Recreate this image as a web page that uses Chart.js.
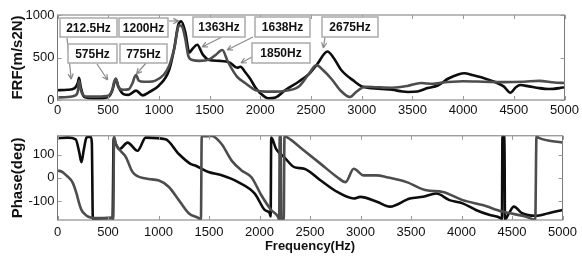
<!DOCTYPE html>
<html>
<head>
<meta charset="utf-8">
<script src="https://cdn.jsdelivr.net/npm/chart.js@4/dist/chart.umd.min.js"></script>
<style>
  html, body { margin: 0; padding: 0; background: #fff; }
  #wrap { position: relative; width: 582px; height: 258px; }
  .box { position: absolute; left: 0; width: 582px; }
</style>
</head>
<body>
<div id="wrap">
  <div class="box" style="top:0;height:125px"><canvas id="frf"></canvas></div>
  <div class="box" style="top:125px;height:133px"><canvas id="phase"></canvas></div>
</div>
<script>
// FRF magnitude (m/s2N)
var frfBlackHz = [0,100,170,200,212,230,260,300,400,500,540,560,575,600,650,700,775,840,900,1000,1100,1150,1190,1220,1260,1300,1330,1378,1430,1495,1600,1700,1770,1805,1850,1900,1950,2000,2080,2150,2250,2377,2475,2560,2662,2720,2800,2933,3000,3100,3200,3300,3400,3456,3550,3650,3750,3850,3950,4011,4100,4200,4306,4400,4466,4520,4564,4650,4750,4850,4950,5000];
var frfBlack   = [115,120,140,200,260,150,40,25,20,35,110,200,250,160,70,60,110,55,90,170,350,600,880,925,800,560,600,650,540,470,460,440,380,392,330,250,150,80,20,30,120,215,300,420,570,500,350,215,160,140,130,120,100,95,100,140,170,250,300,315,290,260,215,160,86,150,176,160,140,130,140,150];

var frfGrayHz = [0,100,170,200,212,230,260,300,400,500,540,560,575,600,650,700,740,760,775,800,850,900,960,1050,1100,1150,1200,1230,1260,1290,1330,1400,1500,1560,1625,1680,1770,1850,1950,2050,2150,2250,2377,2475,2554,2620,2700,2800,2884,2950,3031,3150,3300,3450,3585,3700,3800,3900,4000,4200,4400,4600,4750,4900,5000];
var frfGray   = [30,35,50,100,230,120,50,40,40,50,120,220,250,150,120,125,200,270,294,230,215,215,225,300,400,600,880,860,720,520,470,460,480,530,588,450,275,200,118,98,98,110,156,300,410,350,250,100,35,100,156,150,145,165,200,190,205,215,220,215,210,215,225,205,200];

// Phase (deg)
var phaseBlackHz = [0,100,180,215,237,260,286,300,330,340,350,400,500,545,556,564,613,694,792,874,1070,1201,1316,1364,1495,1626,1789,1953,2051,2100,2110,2116,2165,2246,2345,2443,2606,2770,2933,2998,3162,3292,3488,3619,3750,3880,4011,4142,4273,4387,4400,4405,4425,4430,4469,4518,4600,4730,4861,5000];
var phaseBlack   = [170,172,165,110,67,120,172,175,175,150,-176,-174,-172,-172,170,158,123,151,116,172,165,102,60,53,25,11,-18,-67,-137,-151,-165,172,123,88,46,39,-11,-60,-88,-81,-102,-123,-88,-81,-67,-95,-109,-137,-158,-172,-178,178,175,-178,-151,-123,-151,-162,-151,-137];

var phaseGrayHz = [0,50,90,150,188,215,237,270,300,400,500,545,552,560,580,678,743,874,1005,1103,1201,1299,1397,1420,1428,1446,1528,1626,1724,1822,1920,2018,2116,2181,2195,2200,2210,2215,2240,2247,2279,2443,2606,2770,2851,2933,3031,3162,3260,3456,3652,3815,4011,4208,4404,4632,4730,4742,4760,5000];
var phaseGray   = [32,25,10,-20,-66,-110,-137,-155,-165,-172,-172,-170,-176,176,144,88,25,-3,-11,-39,-95,-151,-172,-178,178,178,179,144,74,32,3,-74,-137,-165,-178,178,175,-178,-178,178,172,116,60,3,-18,39,11,11,3,-18,-53,-60,-95,-116,-144,-165,-178,178,172,151];

var freqTicks = [0,500,1000,1500,2000,2500,3000,3500,4000,4500,5000];
var frfTicks = [0,500,1000];
var phaseTicks = [-100,0,100];

// peak labels on the FRF plot
var peakLabels = ['212.5Hz','575Hz','775Hz','1200Hz','1363Hz','1638Hz','1850Hz','2675Hz'];

var FONT = "'Liberation Sans', Arial, sans-serif";
var BLACK = '#0d0d0d', GRAY = '#4d4d4d';

function pts(xs, ys) {
  return xs.map(function(x, i) { return { x: x, y: ys[i] }; });
}

// label box (page px) and arrow: start in px, tip in data coords
var labelBoxes = {
  '212.5Hz': { box: [60, 18, 57, 19], from: [67, 38], tip: [135, 245] },
  '575Hz':   { box: [68, 44, 49, 19], from: [97, 64], tip: [495, 235] },
  '775Hz':   { box: [120, 44, 47, 19], from: [146, 63], tip: [779, 306] },
  '1200Hz':  { box: [119, 18, 49, 19], from: [169, 21], tip: [1195, 930] },
  '1363Hz':  { box: [193, 17, 52, 20], from: [222, 37], tip: [1426, 624] },
  '1638Hz':  { box: [255, 17, 55, 20], from: [253, 37], tip: [1672, 588] },
  '1850Hz':  { box: [252, 43, 58, 20], from: [252, 57], tip: [1809, 435] },
  '2675Hz':  { box: [322, 17, 56, 20], from: [325, 37], tip: [2622, 612] }
};

var framePlugin = {
  id: 'frame',
  afterDatasetsDraw: function(chart) {
    var ctx = chart.ctx, a = chart.chartArea, sx = chart.scales.x, sy = chart.scales.y;
    ctx.save();
    ctx.strokeStyle = '#777';
    ctx.lineWidth = 1;
    ctx.strokeRect(a.left, a.top, a.width, a.height);
    ctx.strokeStyle = '#999';
    ctx.beginPath();
    sx.ticks.forEach(function(t) {
      var x = Math.round(sx.getPixelForValue(t.value)) + 0.5;
      ctx.moveTo(x, a.bottom); ctx.lineTo(x, a.bottom - 4);
      ctx.moveTo(x, a.top); ctx.lineTo(x, a.top + 4);
    });
    sy.ticks.forEach(function(t) {
      var y = Math.round(sy.getPixelForValue(t.value)) + 0.5;
      ctx.moveTo(a.left, y); ctx.lineTo(a.left + 4, y);
      ctx.moveTo(a.right, y); ctx.lineTo(a.right - 4, y);
    });
    ctx.stroke();
    ctx.restore();
  }
};

var labelPlugin = {
  id: 'peakLabels',
  afterDatasetsDraw: function(chart) {
    var ctx = chart.ctx, sx = chart.scales.x, sy = chart.scales.y;
    ctx.save();
    peakLabels.forEach(function(name) {
      var b = labelBoxes[name];
      // arrow
      var x1 = b.from[0], y1 = b.from[1];
      var x2 = sx.getPixelForValue(b.tip[0]), y2 = sy.getPixelForValue(b.tip[1]);
      var ang = Math.atan2(y2 - y1, x2 - x1);
      ctx.strokeStyle = '#8a8a8a';
      ctx.lineWidth = 1.2;
      ctx.beginPath();
      ctx.moveTo(x1, y1); ctx.lineTo(x2, y2);
      ctx.moveTo(x2, y2); ctx.lineTo(x2 - 6 * Math.cos(ang - 0.45), y2 - 6 * Math.sin(ang - 0.45));
      ctx.moveTo(x2, y2); ctx.lineTo(x2 - 6 * Math.cos(ang + 0.45), y2 - 6 * Math.sin(ang + 0.45));
      ctx.stroke();
      // box
      ctx.fillStyle = '#fff';
      ctx.fillRect(b.box[0], b.box[1], b.box[2], b.box[3]);
      ctx.strokeStyle = '#aaa';
      ctx.lineWidth = 1.5;
      ctx.strokeRect(b.box[0], b.box[1], b.box[2], b.box[3]);
      ctx.fillStyle = '#111';
      ctx.font = 'bold 12px ' + FONT;
      ctx.textAlign = 'center';
      ctx.textBaseline = 'middle';
      ctx.fillText(name, b.box[0] + b.box[2] / 2, b.box[1] + b.box[3] / 2 + 1);
    });
    ctx.restore();
  }
};

function lineSet(data, color) {
  return {
    data: data, borderColor: color, borderWidth: 2.6, pointRadius: 0,
    fill: false, cubicInterpolationMode: 'monotone'
  };
}

function plain(v) { return String(v); }

function makeOptions(yMin, yMax, yTicks, yTitle, xTitle, padTop, xHeight, xPad) {
  return {
    responsive: true,
    maintainAspectRatio: false,
    animation: false,
    layout: { padding: { top: padTop, right: 14.5, bottom: 0, left: 0 } },
    plugins: { legend: { display: false }, tooltip: { enabled: false } },
    scales: {
      x: {
        type: 'linear', min: 0, max: 5000,
        afterBuildTicks: function(s) { s.ticks = freqTicks.map(function(v) { return { value: v }; }); },
        afterFit: function(s) { s.height = xHeight; },
        grid: { display: false, drawTicks: false },
        border: { display: false },
        ticks: { color: '#111', padding: xPad, maxRotation: 0, autoSkip: false, callback: plain, font: { family: FONT, size: 13 } },
        title: xTitle ? { display: true, text: xTitle, color: '#111', padding: { top: 0, bottom: 4 }, font: { family: FONT, size: 13, weight: 'bold' } } : { display: false }
      },
      y: {
        min: yMin, max: yMax,
        afterBuildTicks: function(s) { s.ticks = yTicks.map(function(v) { return { value: v }; }); },
        afterFit: function(s) { s.width = 57.5; },
        grid: { display: false, drawTicks: false },
        border: { display: false },
        ticks: { color: '#111', padding: 3, callback: plain, font: { family: FONT, size: 13 } },
        title: { display: true, text: yTitle, color: '#111', padding: { top: 9, bottom: 0 }, font: { family: FONT, size: 15, weight: 'bold' } }
      }
    }
  };
}

new Chart(document.getElementById('frf'), {
  type: 'line',
  data: { datasets: [lineSet(pts(frfGrayHz, frfGray), GRAY), lineSet(pts(frfBlackHz, frfBlack), BLACK)] },
  options: makeOptions(0, 1000, frfTicks, 'FRF(m/s2N)', null, 15, 25, 3),
  plugins: [framePlugin, labelPlugin]
});

new Chart(document.getElementById('phase'), {
  type: 'line',
  data: { datasets: [lineSet(pts(phaseGrayHz, phaseGray), GRAY), lineSet(pts(phaseBlackHz, phaseBlack), BLACK)] },
  options: makeOptions(-180, 180, phaseTicks, 'Phase(deg)', 'Frequency(Hz)', 10, 38, 5),
  plugins: [framePlugin]
});
</script>
</body>
</html>
